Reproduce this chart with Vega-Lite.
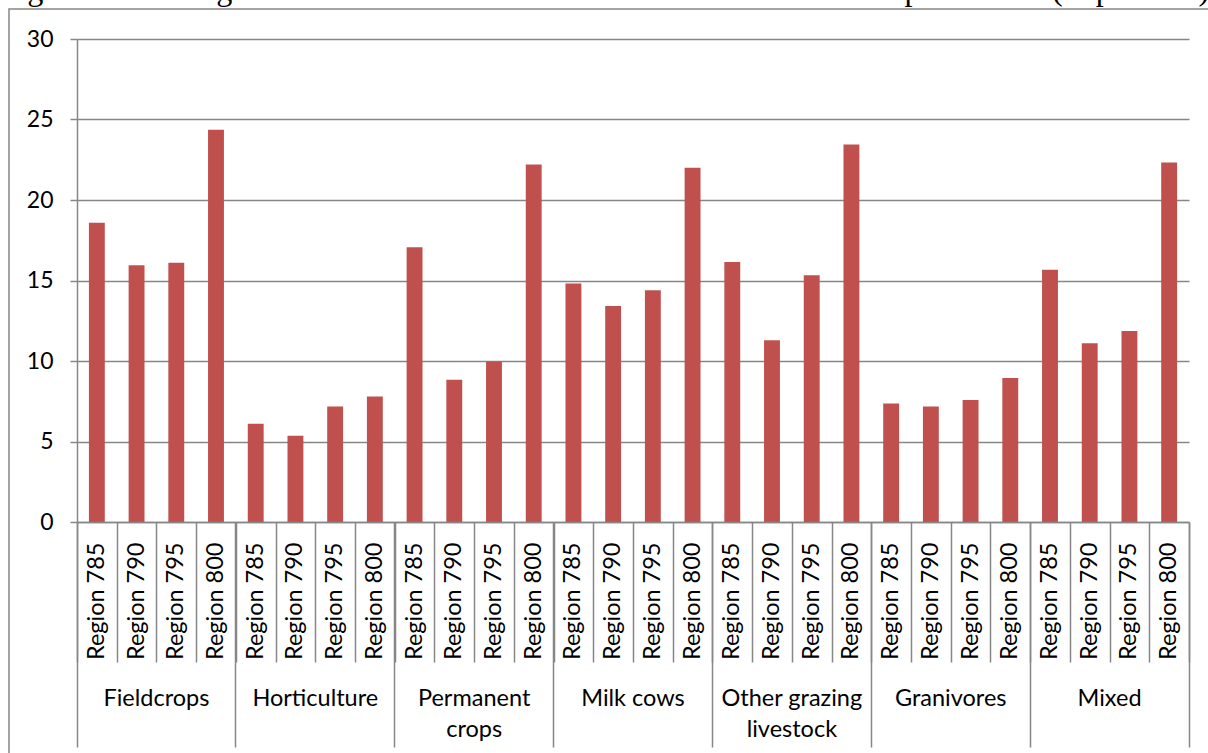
{
  "$schema": "https://vega.github.io/schema/vega-lite/v6.json",
  "width": 1199,
  "height": 744,
  "autosize": {"type": "none"},
  "padding": {"left": 9, "top": 9, "right": 0, "bottom": 0},
  "background": "white",
  "config": {
    "view": {"stroke": "#878787", "strokeWidth": 1.5, "strokeDash": [1199, 1943]},
    "axis": {"labelColor": "black", "tickColor": "#878787", "domainColor": "#878787", "tickWidth": 1.5, "domainWidth": 1.5, "gridColor": "#878787", "gridWidth": 1.5}
  },
  "data": {
    "values": [
      {"group": "Fieldcrops", "region": "Region 785", "key": "Fieldcrops|Region 785", "value": 18.59},
      {"group": "Fieldcrops", "region": "Region 790", "key": "Fieldcrops|Region 790", "value": 15.94},
      {"group": "Fieldcrops", "region": "Region 795", "key": "Fieldcrops|Region 795", "value": 16.11},
      {"group": "Fieldcrops", "region": "Region 800", "key": "Fieldcrops|Region 800", "value": 24.36},
      {"group": "Horticulture", "region": "Region 785", "key": "Horticulture|Region 785", "value": 6.10},
      {"group": "Horticulture", "region": "Region 790", "key": "Horticulture|Region 790", "value": 5.36},
      {"group": "Horticulture", "region": "Region 795", "key": "Horticulture|Region 795", "value": 7.18},
      {"group": "Horticulture", "region": "Region 800", "key": "Horticulture|Region 800", "value": 7.80},
      {"group": "Permanent crops", "region": "Region 785", "key": "Permanent crops|Region 785", "value": 17.06},
      {"group": "Permanent crops", "region": "Region 790", "key": "Permanent crops|Region 790", "value": 8.83},
      {"group": "Permanent crops", "region": "Region 795", "key": "Permanent crops|Region 795", "value": 9.97},
      {"group": "Permanent crops", "region": "Region 800", "key": "Permanent crops|Region 800", "value": 22.21},
      {"group": "Milk cows", "region": "Region 785", "key": "Milk cows|Region 785", "value": 14.81},
      {"group": "Milk cows", "region": "Region 790", "key": "Milk cows|Region 790", "value": 13.42},
      {"group": "Milk cows", "region": "Region 795", "key": "Milk cows|Region 795", "value": 14.39},
      {"group": "Milk cows", "region": "Region 800", "key": "Milk cows|Region 800", "value": 22.00},
      {"group": "Other grazing livestock", "region": "Region 785", "key": "Other grazing livestock|Region 785", "value": 16.15},
      {"group": "Other grazing livestock", "region": "Region 790", "key": "Other grazing livestock|Region 790", "value": 11.29},
      {"group": "Other grazing livestock", "region": "Region 795", "key": "Other grazing livestock|Region 795", "value": 15.32},
      {"group": "Other grazing livestock", "region": "Region 800", "key": "Other grazing livestock|Region 800", "value": 23.45},
      {"group": "Granivores", "region": "Region 785", "key": "Granivores|Region 785", "value": 7.36},
      {"group": "Granivores", "region": "Region 790", "key": "Granivores|Region 790", "value": 7.18},
      {"group": "Granivores", "region": "Region 795", "key": "Granivores|Region 795", "value": 7.57},
      {"group": "Granivores", "region": "Region 800", "key": "Granivores|Region 800", "value": 8.95},
      {"group": "Mixed", "region": "Region 785", "key": "Mixed|Region 785", "value": 15.67},
      {"group": "Mixed", "region": "Region 790", "key": "Mixed|Region 790", "value": 11.10},
      {"group": "Mixed", "region": "Region 795", "key": "Mixed|Region 795", "value": 11.87},
      {"group": "Mixed", "region": "Region 800", "key": "Mixed|Region 800", "value": 22.33}
    ]
  },
  "layer": [
    {
      "mark": {"type": "bar", "color": "#C0504D", "width": {"band": 0.4}},
      "encoding": {
        "x": {
          "field": "key", "type": "nominal", "sort": null,
          "scale": {"range": [68, 1180], "paddingInner": 0, "paddingOuter": 0},
          "axis": {
            "orient": "bottom", "offset": -231, "title": null, "ticks": false, "domain": true, "grid": false,
            "labelAngle": -90, "labelPadding": 20, "labelExpr": "split(datum.value, '|')[1]",
            "labelFont": "Lato", "labelFontSize": 23.5, "labelOverlap": false, "zindex": 1
          }
        },
        "y": {
          "field": "value", "type": "quantitative",
          "scale": {"domain": [0, 30], "range": [513, 30], "nice": false, "zero": true},
          "axis": {
            "orient": "left", "offset": -68, "title": null, "values": [0, 5, 10, 15, 20, 25, 30],
            "tickSize": 7, "grid": true, "labelPadding": 17, "labelFont": "Lato", "labelFontSize": 23, "zindex": 0
          }
        }
      }
    },
    {
      "mark": {"type": "point", "opacity": 0},
      "encoding": {
        "x": {
          "field": "key", "type": "nominal", "sort": null,
          "axis": {"orient": "bottom", "offset": -231, "title": null, "labels": false, "domain": false, "grid": false,
                   "ticks": true, "tickBand": "extent", "tickSize": 140, "zindex": 1}
        }
      }
    },
    {
      "mark": {"type": "point", "opacity": 0},
      "encoding": {
        "x": {
          "field": "key", "type": "nominal", "sort": null,
          "axis": {"orient": "bottom", "offset": -231, "title": null, "labels": false, "domain": false, "grid": false,
                   "ticks": true, "bandPosition": 0, "tickSize": 225, "zindex": 1,
                   "values": ["Fieldcrops|Region 785", "Horticulture|Region 785", "Permanent crops|Region 785", "Milk cows|Region 785", "Other grazing livestock|Region 785", "Granivores|Region 785", "Mixed|Region 785"]}
        }
      }
    },
    {
      "mark": {"type": "point", "opacity": 0},
      "encoding": {
        "x": {
          "field": "key", "type": "nominal", "sort": null,
          "axis": {"orient": "bottom", "offset": -231, "title": null, "labels": false, "domain": false, "grid": false,
                   "ticks": true, "bandPosition": 1, "tickSize": 225, "zindex": 1,
                   "values": ["Mixed|Region 800"]}
        }
      }
    },
    {
      "mark": {"type": "point", "opacity": 0},
      "encoding": {
        "x": {
          "field": "key", "type": "nominal", "sort": null,
          "axis": {"orient": "bottom", "offset": -231, "title": null, "labels": true, "domain": false, "grid": false,
                   "ticks": false, "bandPosition": 0, "zindex": 1, "labelOffset": -19.86,
                   "labelAngle": 0, "labelAlign": "center", "labelBaseline": "top", "labelPadding": 164,
                   "labelLineHeight": 31, "labelOverlap": false, "labelFont": "Lato", "labelFontSize": 23.5,
                   "labelExpr": "split(datum.value, '|')[0] == 'Permanent crops' ? ['Permanent', 'crops'] : split(datum.value, '|')[0] == 'Other grazing livestock' ? ['Other grazing', 'livestock'] : split(datum.value, '|')[0]",
                   "values": ["Fieldcrops|Region 795", "Horticulture|Region 795", "Permanent crops|Region 795", "Milk cows|Region 795", "Other grazing livestock|Region 795", "Granivores|Region 795", "Mixed|Region 795"]}
        }
      }
    },
    {
      "mark": {"type": "point", "opacity": 0},
      "encoding": {
        "x": {
          "field": "key", "type": "nominal", "sort": null,
          "axis": {"orient": "top", "offset": 0, "labels": false, "domain": false, "grid": false, "ticks": false, "zindex": 1,
                   "title": "Figure 10: Average value of investment in machine in relation to total production (in per cent)",
                   "titleX": -9, "titleY": -10, "titleAlign": "left", "titleAnchor": "start", "titleBaseline": "alphabetic", "titleAngle": 0,
                   "titleFont": "Liberation Serif", "titleFontSize": 32.2, "titleFontWeight": "normal", "titleColor": "black", "titleLimit": 3000}
        }
      }
    }
  ],
  "resolve": {"axis": {"x": "independent"}}
}
